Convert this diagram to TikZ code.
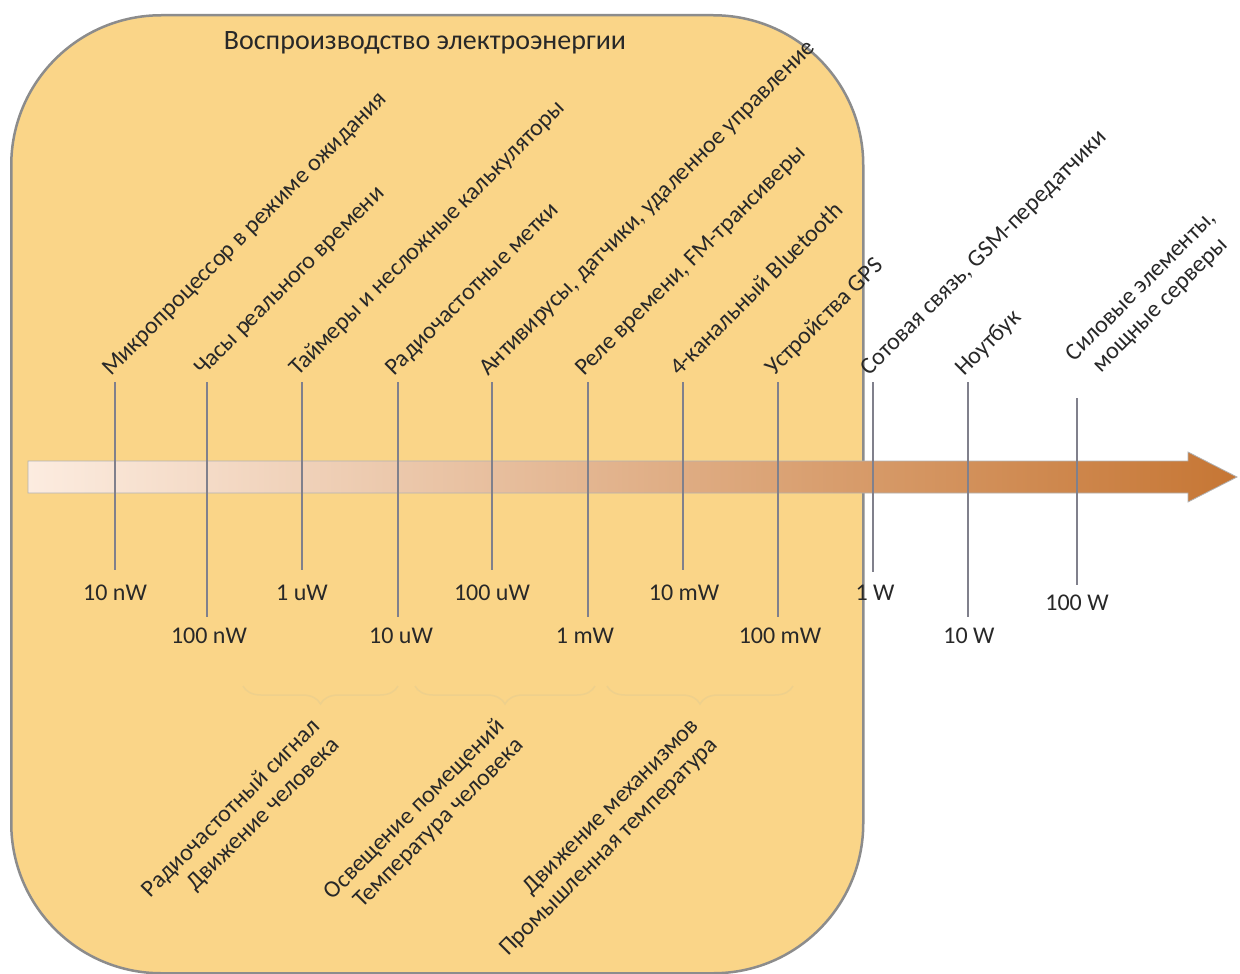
\documentclass[tikz,border=0pt]{standalone}
\usepackage{fontspec}
\setmainfont{Carlito}
\usetikzlibrary{decorations.pathreplacing}
\definecolor{bgbox}{RGB}{250,213,136}
\definecolor{boxedge}{RGB}{140,140,140}
\definecolor{tick}{RGB}{128,128,140}
\definecolor{arrL}{RGB}{252,236,224}
\definecolor{arrR}{RGB}{198,118,52}
\definecolor{txt}{RGB}{40,40,40}
\definecolor{bracec}{RGB}{238,208,140}
\begin{document}
\begin{tikzpicture}[x=1pt,y=-1pt,
  lbl/.style={font=\fontsize{24}{27}\selectfont, text=txt, inner sep=0pt},
  rlbl/.style={lbl, rotate=45, anchor=base west},
  blbl/.style={lbl, rotate=45, anchor=north east, align=right},
  tickline/.style={draw=tick, line width=1.5pt},
  bracestyle/.style={draw=bracec, line width=1.5pt, decorate, decoration={brace, mirror, amplitude=18pt}}
]
\useasboundingbox (0,0) rectangle (1240,974);
\fill[white] (0,0) rectangle (1240,974);
\node[draw=boxedge, line width=2.5pt, fill=bgbox, rounded corners=150pt, minimum width=852pt, minimum height=958pt, anchor=north west, inner sep=0pt] (box) at (10,14) {};
\node[lbl, font=\fontsize{28}{32}\selectfont, anchor=base] (title) at (425,50) {Воспроизводство электроэнергии};

\shadedraw[left color=arrL, right color=arrR, draw=black!30, line width=0.8pt]
  (28,461) -- (1188,461) -- (1188,452) -- (1237,477) -- (1188,502) -- (1188,493) -- (28,493) -- cycle;

\foreach \x/\yb/\n in {115/570/a,207/617/b,302/570/c,398/617/d,492/570/e,588/617/f,683/570/g,778/617/h,873/572/i,968/617/j}{
  \coordinate (t\n) at (\x,382);
  \coordinate (b\n) at (\x,\yb);
  \draw[tickline] (t\n) -- (b\n);
}
\coordinate (tk) at (1077,398);
\coordinate (bk) at (1077,585);
\draw[tickline] (tk) -- (bk);

\node[lbl] (va) at (115,593) {10 nW};
\node[lbl] (vb) at (209,636) {100 nW};
\node[lbl] (vc) at (302,593) {1 uW};
\node[lbl] (vd) at (401,636) {10 uW};
\node[lbl] (ve) at (492,593) {100 uW};
\node[lbl] (vf) at (585,636) {1 mW};
\node[lbl] (vg) at (684,593) {10 mW};
\node[lbl] (vh) at (780,636) {100 mW};
\node[lbl] (vi) at (875,593) {1 W};
\node[lbl] (vj) at (969,636) {10 W};
\node[lbl] (vk) at (1077,603) {100 W};

\node[rlbl] (la) at (111,377) {Микропроцессор в режиме ожидания};
\node[rlbl] (lb) at (203,377) {Часы реального времени};
\node[rlbl] (lc) at (298,377) {Таймеры и несложные калькуляторы};
\node[rlbl] (ld) at (394,377) {Радиочастотные метки};
\node[rlbl] (le) at (488,377) {Антивирусы, датчики, удаленное управление};
\node[rlbl] (lf) at (584,377) {Реле времени, FM-трансиверы};
\node[rlbl] (lg) at (679,377) {4-канальный Bluetooth};
\node[rlbl] (lh) at (774,377) {Устройства GPS};
\node[rlbl] (li) at (869,377) {Сотовая связь, GSM-передатчики};
\node[rlbl] (lj) at (964,377) {Ноутбук};
\node[lbl, rotate=45, anchor=north west, align=center] (lk) at (1063,351) {Силовые элементы,\\мощные серверы};

\coordinate (s1) at (243,686); \coordinate (e1) at (398,686);
\coordinate (s2) at (415,686); \coordinate (e2) at (595,686);
\coordinate (s3) at (607,686); \coordinate (e3) at (793,686);
\draw[bracestyle] (s1) -- (e1);
\draw[bracestyle] (s2) -- (e2);
\draw[bracestyle] (s3) -- (e3);

\node[blbl] (g1) at (310,716) {Радиочастотный сигнал\\Движение человека};
\node[blbl] (g2) at (494,716) {Освещение помещений\\Температура человека};
\node[blbl] (g3) at (689,716) {Движение механизмов\\Промышленная температура};
\end{tikzpicture}
\end{document}
